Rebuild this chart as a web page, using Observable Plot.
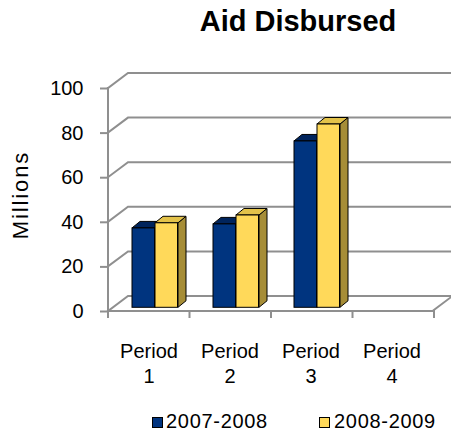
<!DOCTYPE html>
<html>
<head>
<meta charset="utf-8">
<script src="https://cdn.jsdelivr.net/npm/d3@7"></script>
<script src="https://cdn.jsdelivr.net/npm/@observablehq/plot@0.6"></script>
<style>
  html, body { margin: 0; padding: 0; background: #fff; }
  #wrap { position: relative; width: 451px; height: 434px; overflow: hidden; font-family: "Liberation Sans", Arial, sans-serif; color: #000; }
  #wrap svg { position: absolute; left: 0; top: 0; }
  #title { position: absolute; left: 98px; width: 400px; top: 7px; text-align: center; font-weight: bold; font-size: 29px; line-height: 29px; }
  #ylabel { position: absolute; left: -39px; width: 120px; top: 184px; height: 22px; line-height: 22px; font-size: 22px; letter-spacing: 1.9px; text-align: center; transform: rotate(-90deg); transform-origin: 50% 50%; }
  .leg { position: absolute; top: 411px; font-size: 20px; line-height: 20px; letter-spacing: 0.7px; white-space: nowrap; }
  .sw { position: absolute; top: 417px; width: 9px; height: 9px; border: 1px solid #000; }
</style>
</head>
<body>
<div id="wrap">
  <div id="title">Aid Disbursed</div>
  <div id="ylabel">Millions</div>
</div>
<script>
// ---- data ----
const periods = ["Period 1", "Period 2", "Period 3", "Period 4"];
const seriesNames = ["2007-2008", "2008-2009"];
const values0708 = [35.6, 37.4, 74.6, null];
const values0809 = [37.9, 41.4, 82.2, null];
const yTicks = [0, 20, 40, 60, 80, 100];

// ---- styling / layout ----
const W = 451, H = 434;
const mL = 107, mR = 18, mT = 88, mB = 123;
const bw = (W - mL - mR) / periods.length;
const WALL_DX = 20, WALL_DY = -15;     // depth of the 3D box
const BAR_DY = -3.7;                    // bar front plane offset
const BDX = 8, BDY = -6.5;              // bar depth
const gridColor = "#8f8f8f";
const colors = {
  "2007-2008": {front: "#00347f", top: "#00245c", side: "#001d4a"},
  "2008-2009": {front: "#ffd95a", top: "#e3c24a", side: "#a68d37"}
};
const insets = {
  "2007-2008": {l: 24, r: bw - 47},
  "2008-2009": {l: 47, r: bw - 70}
};

const rowsFor = (name, vals) => periods
  .map((p, i) => ({period: p, series: name, value: vals[i]}))
  .filter(d => d.value != null);
const rows0708 = rowsFor(seriesNames[0], values0708);
const rows0809 = rowsFor(seriesNames[1], values0809);

function bandStart(x, p) { return x(p); }

// walls / gridlines of the 3D box, drawn through the plot's scales
function walls(index, scales) {
  const {x, y} = scales;
  const g = d3.create("svg:g").attr("fill", "none").attr("stroke", gridColor)
    .attr("stroke-width", 2).attr("stroke-linecap", "square");
  const x0 = bandStart(x, periods[0]);
  const x1 = bandStart(x, periods[periods.length - 1]) + bw;
  for (const t of yTicks) {
    const yf = y(t);
    g.append("path").attr("d", `M${x0},${yf}L${x0 + WALL_DX},${yf + WALL_DY}L${x1 + WALL_DX + 10},${yf + WALL_DY}`);
  }
  const y0 = y(0);
  g.append("path").attr("d", `M${x0},${y0}L${x1},${y0}L${x1 + WALL_DX},${y0 + WALL_DY}`);
  g.append("path").attr("d", `M${x0},${y0}L${x0},${y(yTicks[yTicks.length - 1])}`);
  for (let i = 0; i <= periods.length; i++) {
    const xx = x0 + i * bw;
    g.append("path").attr("d", `M${xx},${y0}L${xx},${y0 + 6}`);
  }
  return g.node();
}

function depthFaces(rows, name) {
  return (index, scales) => {
    const {x, y} = scales;
    const c = colors[name], ins = insets[name];
    const g = d3.create("svg:g").attr("stroke", "#000").attr("stroke-width", 1).attr("stroke-linejoin", "round");
    for (const r of rows) {
      const xa = bandStart(x, r.period) + ins.l;
      const xb = bandStart(x, r.period) + bw - ins.r;
      const yt = y(r.value) + BAR_DY, yb = y(0) + BAR_DY;
      g.append("path").attr("fill", c.side)
        .attr("d", `M${xb},${yt}L${xb + BDX},${yt + BDY}L${xb + BDX},${yb + BDY}L${xb},${yb}Z`);
      g.append("path").attr("fill", c.top)
        .attr("d", `M${xa},${yt}L${xb},${yt}L${xb + BDX},${yt + BDY}L${xa + BDX},${yt + BDY}Z`);
    }
    return g.node();
  };
}

function frontBars(rows, name) {
  return Plot.barY(rows, {
    x: "period", y: "value",
    fill: colors[name].front, stroke: "#000", strokeWidth: 1,
    insetLeft: insets[name].l, insetRight: insets[name].r,
    dy: BAR_DY
  });
}

const chart = Plot.plot({
  width: W, height: H,
  marginLeft: mL, marginRight: mR, marginTop: mT, marginBottom: mB,
  style: {fontFamily: "'Liberation Sans', Arial, sans-serif", fontSize: "20px", color: "#000", background: "transparent", overflow: "visible"},
  x: {type: "band", domain: periods, padding: 0},
  y: {domain: [0, 100]},
  marks: [
    walls,
    Plot.axisY({ticks: yTicks, tickSize: 7, tickPadding: 17, stroke: gridColor, strokeWidth: 2, fill: "#000", fontSize: 20, label: null}),
    Plot.axisX({tickSize: 0, tickPadding: 29, tickFormat: d => d.replace(" ", "\n"), lineHeight: 1.25, fill: "#000", fontSize: 20, label: null}),
    depthFaces(rows0708, seriesNames[0]),
    frontBars(rows0708, seriesNames[0]),
    depthFaces(rows0809, seriesNames[1]),
    frontBars(rows0809, seriesNames[1])
  ]
});

const wrap = document.getElementById("wrap");
wrap.insertBefore(chart, wrap.firstChild);

// legend
const legendPos = [{sw: 152, tx: 166}, {sw: 319, tx: 334}];
seriesNames.forEach((name, i) => {
  const sw = document.createElement("div");
  sw.className = "sw";
  sw.style.left = legendPos[i].sw + "px";
  sw.style.background = colors[name].front;
  wrap.appendChild(sw);
  const t = document.createElement("div");
  t.className = "leg";
  t.style.left = legendPos[i].tx + "px";
  t.textContent = name;
  wrap.appendChild(t);
});
</script>
</body>
</html>
